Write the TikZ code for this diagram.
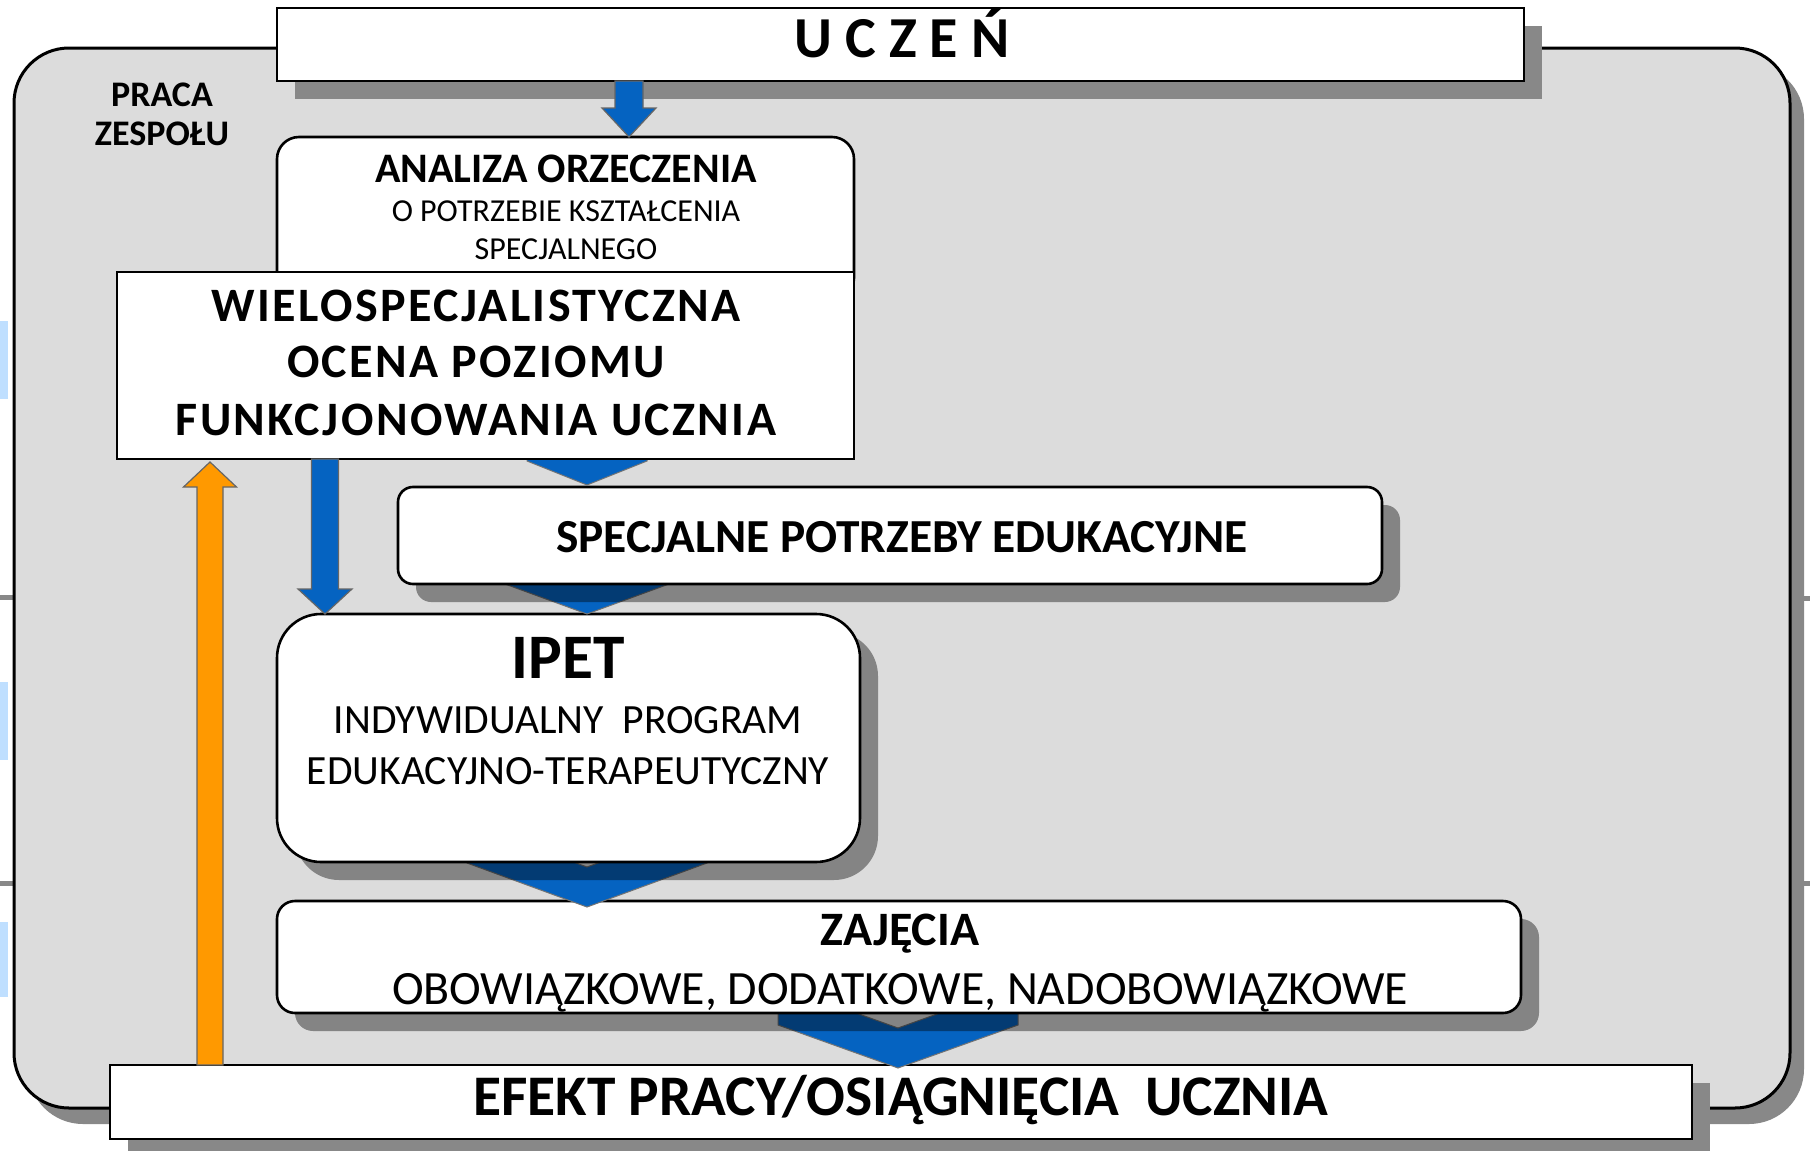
\documentclass[tikz,border=0pt]{standalone}
\usepackage{fontspec}
\setmainfont{Carlito}
\usetikzlibrary{calc,fit,shadows}
\definecolor{panelc}{HTML}{DCDCDC}
\definecolor{shadc}{HTML}{888888}
\definecolor{bluec}{HTML}{0563C1}
\definecolor{orangec}{HTML}{FF9900}
\definecolor{lblue}{HTML}{BFDFFF}
\pgfdeclarelayer{pan}
\pgfdeclarelayer{efl}
\pgfdeclarelayer{cfour}
\pgfdeclarelayer{zal}
\pgfdeclarelayer{cthree}
\pgfdeclarelayer{ipl}
\pgfdeclarelayer{ctwo}
\pgfdeclarelayer{spl}
\pgfdeclarelayer{cone}
\pgfsetlayers{pan,efl,cfour,zal,cthree,ipl,ctwo,spl,cone,main}
% chevron: #1 centre x, #2 lower node, #3 tip offset, #4 half width, #5 drop
\newcommand\chevronshape[5]{%
  \draw[chev] ($(#1,0 |- #2.north)+(0,#3)$) -- ++(-1*#4,-1*#5) -- ++(0,-40)
    -- ++(#4,#5) -- ++(#4,-1*#5) -- ++(0,40) -- cycle;}
% vertical block arrow: #1 style, #2 start, #3 tip, #4 shaft half, #5 head half, #6 head length (+ down, - up)
\newcommand\blockarrow[6]{%
  \draw[#1] ($(#2)+(-1*#4,0)$) -- ($(#3)+(-1*#4,-1*#6)$) -- ($(#3)+(-1*#5,-1*#6)$)
    -- (#3) -- ($(#3)+(#5,-1*#6)$) -- ($(#3)+(#4,-1*#6)$) -- ($(#2)+(#4,0)$) -- cycle;}
\begin{document}
\begin{tikzpicture}[x=0.5pt,y=-0.5pt,
  box/.style={draw=black, line width=1.3pt, fill=white, inner sep=0pt, outer sep=0pt},
  tshad/.style={drop shadow={shadow xshift=9pt,shadow yshift=-9pt,fill=black,opacity=0.4}},
  sshad/.style={drop shadow={shadow xshift=9pt,shadow yshift=-9pt,fill=shadc,opacity=1}},
  chev/.style={fill=bluec, draw=black!55, line width=0.5pt},
  barrow/.style={fill=bluec, draw=black!60, line width=0.6pt},
  oarrow/.style={fill=orangec, draw=black!60, line width=0.6pt},
  lbl/.style={inner sep=0pt, anchor=base},
  hb/.style={font=\bfseries\fontsize{#1}{#1}\selectfont},
  hr/.style={font=\fontsize{#1}{#1}\selectfont},
]
\useasboundingbox (0,0) rectangle (1810,1151);
\begin{pgfonlayer}{pan}
  \fill[white] (0,0) rectangle (1810,1151);
  \fill[lblue] (0,321) rectangle (8,399);
  \fill[lblue] (0,682) rectangle (8,760);
  \fill[lblue] (0,922) rectangle (8,997);
  \draw[shadc, line width=2.5pt] (0,597) -- (15,597);
  \draw[shadc, line width=2.5pt] (0,883) -- (15,883);
  \node[draw=black, line width=1.5pt, fill=panelc, inner sep=0pt, outer sep=0pt,
        rounded corners=27.5pt,
        drop shadow={shadow xshift=7pt,shadow yshift=-8pt,fill=shadc,opacity=1},
        fit={(14,48) (1790,1108)}] (panel) {};
  \draw[shadc, line width=2.5pt] (1792,598) -- (1810,598);
  \draw[shadc, line width=2.5pt] (1792,883) -- (1810,883);
\end{pgfonlayer}
\begin{pgfonlayer}{efl}
  \node[box, sshad, fit={(110,1065) (1692,1139)}] (efekt) {};
\end{pgfonlayer}
\begin{pgfonlayer}{zal}
  \node[box, tshad, rounded corners=9pt, fit={(277,901) (1521,1013)}] (zaj) {};
\end{pgfonlayer}
\begin{pgfonlayer}{ipl}
  \node[box, tshad, rounded corners=22pt, fit={(277,614) (860,862)}] (ipet) {};
\end{pgfonlayer}
\begin{pgfonlayer}{spl}
  \node[box, tshad, rounded corners=7.5pt, fit={(398,487) (1382,584)}] (spe) {};
\end{pgfonlayer}
% chevrons
\begin{pgfonlayer}{cfour}
  \chevronshape{898}{efekt}{3}{120}{43}
\end{pgfonlayer}
\begin{pgfonlayer}{cthree}
  \chevronshape{587}{zaj}{6}{120}{44}
\end{pgfonlayer}
\begin{pgfonlayer}{ctwo}
  \chevronshape{587}{ipet}{0}{82}{30}
\end{pgfonlayer}
\begin{pgfonlayer}{cone}
  \chevronshape{587}{spe}{-2}{60}{24}
\end{pgfonlayer}
% upper boxes
\node[box, sshad, fit={(277,8) (1524,81)}] (uczen) {};
\node[box, rounded corners=11pt, fit={(277,137) (854,300)}] (analiza) {};
\node[box, fit={(117,272) (854,459)}] (wielo) {};
% arrows
\coordinate (a1s) at (629,0 |- uczen.south);
\coordinate (a1e) at (629,0 |- analiza.north);
\blockarrow{barrow}{a1s}{a1e}{14}{27}{29}
\coordinate (a2s) at (325,0 |- wielo.south);
\coordinate (a2e) at (325,0 |- ipet.north);
\blockarrow{barrow}{a2s}{a2e}{13.5}{27}{25}
\coordinate (a3s) at (210,0 |- efekt.north);
\coordinate (a3e) at ($(210,0 |- wielo.south)+(0,3)$);
\blockarrow{oarrow}{a3s}{a3e}{13}{26.5}{-25}
% texts
\node[lbl, hb=29] (tu) at (902,57) {U C Z E Ń};
\node[lbl, hb=18] (tp1) at (162,106.5) {PRACA};
\node[lbl, hb=18] (tp2) at (162,145.5) {ZESPOŁU};
\node[lbl, hb=21] (ta1) at (566,182.5) {ANALIZA ORZECZENIA};
\node[lbl, hr=16] (ta2) at (566,221.3) {O POTRZEBIE KSZTAŁCENIA};
\node[lbl, hr=16] (ta3) at (566,259.3) {SPECJALNEGO};
\begin{scope}[every node/.append style={font=\bfseries\fontsize{24}{28}\selectfont\addfontfeatures{LetterSpace=5}}]
\node[lbl] (tw1) at (476,321) {WIELOSPECJALISTYCZNA};
\node[lbl] (tw2) at (476,377) {OCENA POZIOMU};
\node[lbl] (tw3) at (476,435) {FUNKCJONOWANIA UCZNIA};
\end{scope}
\node[lbl, hb=23.7] (ts) at (902,552) {SPECJALNE POTRZEBY EDUKACYJNE};
\node[lbl, hb=31.7] (ti1) at (568,678.4) {IPET};
\node[lbl, hr=20.8] (ti2) at (568,733.5) {INDYWIDUALNY\ \ PROGRAM};
\node[lbl, hr=20.8] (ti3) at (568,784.5) {EDUKACYJNO-TERAPEUTYCZNY};
\node[lbl, hb=24] (tz1) at (900,945.5) {ZAJĘCIA};
\node[lbl, hr=23.9] (tz2) at (900,1004.5) {OBOWIĄZKOWE, DODATKOWE, NADOBOWIĄZKOWE};
\node[lbl, hb=28.7] (te) at (901,1115.5) {EFEKT PRACY/OSIĄGNIĘCIA\ \ UCZNIA};
\end{tikzpicture}
\end{document}
